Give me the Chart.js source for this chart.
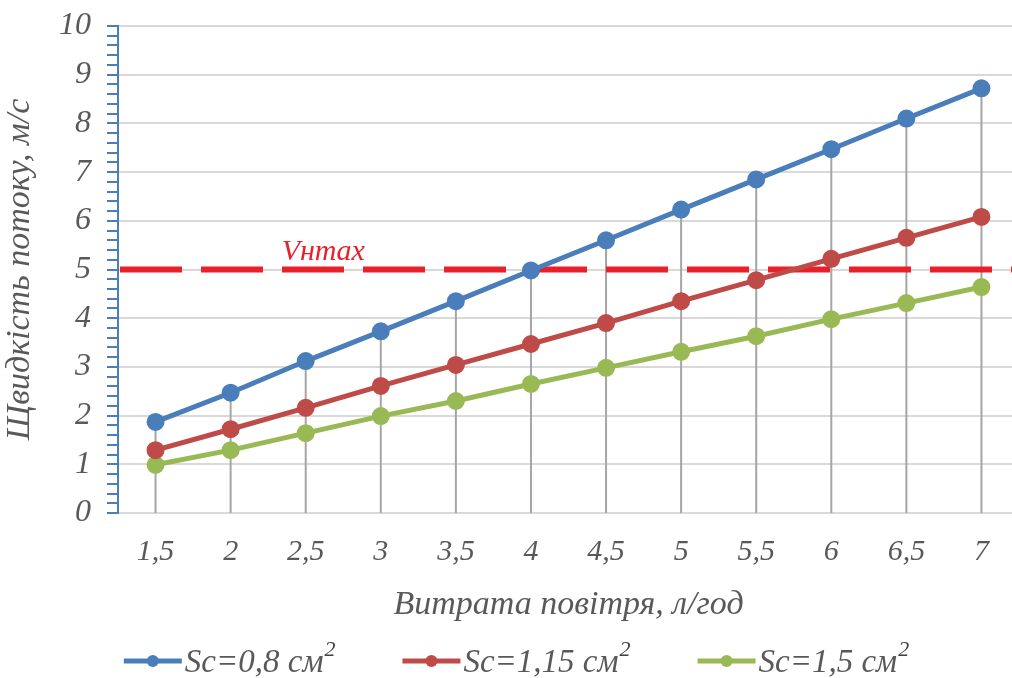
<!DOCTYPE html>
<html>
<head>
<meta charset="utf-8">
<script src="https://cdn.jsdelivr.net/npm/chart.js@4.4.1/dist/chart.umd.min.js"></script>
<style>
  html, body { margin: 0; padding: 0; background: #fff; overflow: hidden; }
  body { width: 1012px; height: 678px; }
  #wrap { width: 1019px; height: 678px; position: relative; }
  canvas { display: block; }
</style>
</head>
<body>
<div id="wrap"><canvas id="cchart"></canvas></div>
<script>
const categories = ['1,5', '2', '2,5', '3', '3,5', '4', '4,5', '5', '5,5', '6', '6,5', '7'];
const seriesBlue = [1.87, 2.47, 3.12, 3.73, 4.35, 4.98, 5.6, 6.23, 6.85, 7.47, 8.1, 8.72];
const seriesRed = [1.29, 1.72, 2.16, 2.61, 3.04, 3.47, 3.9, 4.35, 4.78, 5.22, 5.65, 6.08];
const seriesGreen = [0.99, 1.29, 1.64, 1.99, 2.3, 2.65, 2.98, 3.31, 3.63, 3.98, 4.31, 4.64];
const seriesNames = ['Sc=0,8 см²', 'Sc=1,15 см²', 'Sc=1,5 см²'];
const vMax = 5;
const vMaxLabel = 'Vнmax';
const yMin = 0;
const yMax = 10;

const FONT = "'Liberation Serif', 'Times New Roman', serif";
const colors = ['#4a7ebb', '#be4b48', '#98b954'];
const textColor = '#595959';

// gray drop lines from the top point of each category, plus the dashed limit line
const dropLines = {
  id: 'dropLines',
  beforeDatasetsDraw(chart) {
    const { ctx, chartArea, scales } = chart;
    ctx.save();
    ctx.strokeStyle = '#a5a5a5';
    ctx.lineWidth = 2;
    categories.forEach((c, i) => {
      const top = Math.max(...chart.data.datasets.map(d => d.data[i]));
      const x = scales.x.getPixelForValue(i);
      ctx.beginPath();
      ctx.moveTo(x, scales.y.getPixelForValue(top));
      ctx.lineTo(x, chartArea.bottom);
      ctx.stroke();
    });
    const y = scales.y.getPixelForValue(vMax);
    ctx.strokeStyle = '#e8202a';
    ctx.lineWidth = 6;
    ctx.setLineDash([62, 19]);
    ctx.beginPath();
    ctx.moveTo(chartArea.left + 2, y);
    ctx.lineTo(chartArea.right, y);
    ctx.stroke();
    ctx.setLineDash([]);
    ctx.fillStyle = '#e8202a';
    ctx.font = 'italic 30px ' + FONT;
    ctx.textAlign = 'center';
    ctx.textBaseline = 'alphabetic';
    ctx.fillText(vMaxLabel, (scales.x.getPixelForValue(2) + scales.x.getPixelForValue(3)) / 2 - 20, y - 10);
    ctx.restore();
  }
};

// legend drawn by hand: line + dot marker, text with raised "2"
const legendBox = {
  id: 'legendBox',
  afterDraw(chart) {
    const { ctx } = chart;
    const size = 33;
    const supSize = 22;
    const cy = 661;
    ctx.save();
    ctx.textBaseline = 'middle';
    ctx.textAlign = 'left';
    const items = chart.data.datasets.map((d, i) => {
      const main = d.label.replace('²', '');
      ctx.font = 'italic ' + size + 'px ' + FONT;
      const w1 = ctx.measureText(main).width;
      ctx.font = 'italic ' + supSize + 'px ' + FONT;
      const w2 = ctx.measureText('2').width;
      return { main, w1, w2, color: colors[i] };
    });
    const markW = 58, gap = 3, between = 68;
    const total = items.reduce((s, it) => s + markW + gap + it.w1 + it.w2, 0) + between * (items.length - 1);
    let x = document.body.clientWidth / 2 - total / 2 + 10;
    items.forEach(it => {
      ctx.strokeStyle = it.color;
      ctx.fillStyle = it.color;
      ctx.lineWidth = 5;
      ctx.beginPath();
      ctx.moveTo(x, cy);
      ctx.lineTo(x + markW, cy);
      ctx.stroke();
      ctx.beginPath();
      ctx.arc(x + markW / 2, cy, 6, 0, Math.PI * 2);
      ctx.fill();
      x += markW + gap;
      ctx.fillStyle = textColor;
      ctx.font = 'italic ' + size + 'px ' + FONT;
      ctx.fillText(it.main, x, cy + 2);
      x += it.w1;
      ctx.font = 'italic ' + supSize + 'px ' + FONT;
      ctx.fillStyle = '#404040';
      ctx.fillText('2', x + 1, cy - 11);
      x += it.w2 + between;
    });
    ctx.restore();
  }
};

const mk = (i, data) => ({
  label: seriesNames[i],
  data: data,
  borderColor: colors[i],
  backgroundColor: colors[i],
  borderWidth: 5,
  pointRadius: 6.5,
  pointHoverRadius: 6.5,
  pointStyle: 'circle',
  tension: 0,
  fill: false,
});

let chart = null;
let drawChart = () => {
  const ctx = document.getElementById('cchart');
  if (chart) chart.destroy();
  Chart.defaults.font.family = FONT;
  Chart.defaults.font.style = 'italic';
  Chart.defaults.color = textColor;
  chart = new Chart(ctx, {
    type: 'line',
    data: {
      labels: categories,
      datasets: [mk(0, seriesBlue), mk(1, seriesRed), mk(2, seriesGreen)],
    },
    plugins: [dropLines, legendBox],
    options: {
      animation: false,
      responsive: true,
      maintainAspectRatio: false,
      layout: { autoPadding: false, padding: { top: 26, right: 0, left: 0, bottom: 48 } },
      plugins: {
        tooltip: { enabled: false },
        legend: { display: false },
      },
      scales: {
        x: {
          offset: true,
          afterFit: (s) => { s.height = 117; },
          grid: { display: false, drawTicks: false },
          border: { display: false },
          ticks: { color: textColor, font: { size: 30, style: 'italic' }, padding: 21, maxRotation: 0, autoSkip: false },
          title: {
            display: true,
            text: 'Витрата повітря, л/год',
            color: textColor,
            font: { size: 34, style: 'italic' },
            padding: { top: 0, bottom: 5 },
          },
        },
        y: {
          min: yMin,
          max: yMax,
          afterFit: (s) => { s.width = 118; },
          border: { display: true, color: '#4a7ebb', width: 2 },
          grid: {
            color: (c) => Math.abs(c.tick.value - Math.round(c.tick.value)) < 1e-6 ? '#d9d9d9' : 'rgba(0,0,0,0)',
            lineWidth: 2,
            tickColor: '#4a7ebb',
            tickLength: 11,
            tickWidth: 2,
          },
          ticks: {
            stepSize: 0.2,
            maxTicksLimit: 100,
            autoSkip: false,
            padding: 16,
            color: textColor,
            font: { size: 32, style: 'italic', lineHeight: 0.6 },
            callback: (v) => Math.abs(v - Math.round(v)) < 1e-6 ? String(Math.round(v)) : '',
          },
          title: {
            display: true,
            text: 'Щвидкість потоку, м/с',
            color: textColor,
            font: { size: 34, style: 'italic' },
            padding: { top: 0, bottom: 0 },
          },
        },
      },
    },
  });
};

drawChart();
</script>
</body>
</html>
